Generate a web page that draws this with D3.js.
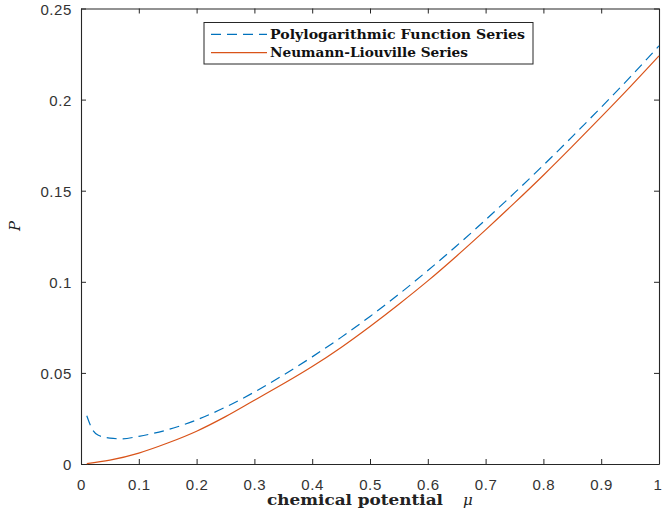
<!DOCTYPE html>
<html>
<head>
<meta charset="utf-8">
<script src="https://cdn.jsdelivr.net/npm/d3@7/dist/d3.min.js"></script>
<style>
  html, body { margin: 0; padding: 0; background: #fff; }
  svg { display: block; }
  .tick text { font-family: "Liberation Sans", Arial, sans-serif; font-size: 15px; fill: #333; letter-spacing: 0.6px; }
</style>
</head>
<body>
<svg id="chart" width="662" height="522"></svg>
<script>
// Chemical potential grid and pressure values for both series
const muPoly = [0.01, 0.02, 0.03, 0.05, 0.07, 0.1, 0.15, 0.2, 0.25, 0.3, 0.35, 0.4, 0.45, 0.5,
                0.55, 0.6, 0.65, 0.7, 0.75, 0.8, 0.85, 0.9, 0.95, 1.0];
const pPoly  = [0.0265, 0.0188, 0.0158, 0.0142, 0.0138, 0.0152, 0.0188, 0.0242, 0.0312, 0.0395,
                0.0488, 0.0588, 0.0695, 0.081, 0.0932, 0.1062, 0.1198, 0.134, 0.1488, 0.164,
                0.1797, 0.1958, 0.2123, 0.2295];

const muNL = [0.01, 0.05, 0.1, 0.15, 0.2, 0.25, 0.3, 0.35, 0.4, 0.45, 0.5,
              0.55, 0.6, 0.65, 0.7, 0.75, 0.8, 0.85, 0.9, 0.95, 1.0];
const pNL  = [0.0002, 0.0021, 0.006, 0.0115, 0.018, 0.026, 0.035, 0.044, 0.0535, 0.064, 0.0755,
              0.0877, 0.1005, 0.1142, 0.1285, 0.1433, 0.1585, 0.1743, 0.1905, 0.207, 0.224];

const xTicks = [0, 0.1, 0.2, 0.3, 0.4, 0.5, 0.6, 0.7, 0.8, 0.9, 1];
const xTickLabels = ["0", "0.1", "0.2", "0.3", "0.4", "0.5", "0.6", "0.7", "0.8", "0.9", "1"];
const yTicks = [0, 0.05, 0.1, 0.15, 0.2, 0.25];
const yTickLabels = ["0", "0.05", "0.1", "0.15", "0.2", "0.25"];

const seriesNames = ["Polylogarithmic Function Series", "Neumann-Liouville Series"];
const seriesColors = ["#0072BD", "#D95319"];

const svg = d3.select("#chart");
const L = 81, R = 659, T = 8.5, B = 464;

const x = d3.scaleLinear().domain([0, 1]).range([L, R]);
const y = d3.scaleLinear().domain([0, 0.25]).range([B, T]);

const axisColor = "#262626";

// bottom axis with inward ticks
const gx = svg.append("g").attr("transform", `translate(0,${B})`)
  .call(d3.axisBottom(x).tickValues(xTicks).tickFormat((d, i) => xTickLabels[i])
        .tickSizeInner(-5).tickSizeOuter(0).tickPadding(15));
// left axis
const gy = svg.append("g").attr("transform", `translate(${L},0)`)
  .call(d3.axisLeft(y).tickValues(yTicks).tickFormat((d, i) => yTickLabels[i])
        .tickSizeInner(-5).tickSizeOuter(0).tickPadding(9));
// top and right axes, ticks only
const gt = svg.append("g").attr("transform", `translate(0,${T})`)
  .call(d3.axisTop(x).tickValues(xTicks).tickFormat("").tickSizeInner(-5).tickSizeOuter(0));
const gr = svg.append("g").attr("transform", `translate(${R},0)`)
  .call(d3.axisRight(y).tickValues(yTicks).tickFormat("").tickSizeInner(-5).tickSizeOuter(0));

[gx, gy, gt, gr].forEach(g => {
  g.selectAll("path.domain").attr("stroke", axisColor).attr("stroke-width", 1.1);
  g.selectAll(".tick line").attr("stroke", axisColor).attr("stroke-width", 1);
});
gy.selectAll(".tick text").attr("dy", "0.38em");
// keep the last x label inside the canvas
gx.selectAll(".tick text").filter(d => d === 1).attr("text-anchor", "end").attr("dx", "3");

// curves
const line = d3.line().x(d => x(d[0])).y(d => y(d[1])).curve(d3.curveMonotoneX);

svg.append("path")
  .datum(muNL.map((m, i) => [m, pNL[i]]))
  .attr("d", line)
  .attr("fill", "none")
  .attr("stroke", seriesColors[1])
  .attr("stroke-width", 1.2);

svg.append("path")
  .datum(muPoly.map((m, i) => [m, pPoly[i]]))
  .attr("d", line)
  .attr("fill", "none")
  .attr("stroke", seriesColors[0])
  .attr("stroke-width", 1.2)
  .attr("stroke-dasharray", "10,6");

// legend
const leg = svg.append("g");
leg.append("rect")
  .attr("x", 204).attr("y", 22.5).attr("width", 329).attr("height", 41.5)
  .attr("fill", "#fff").attr("stroke", axisColor).attr("stroke-width", 1);

const legRows = [34.3, 52.7];
const legWidths = [255, 198];
seriesNames.forEach((name, i) => {
  leg.append("line")
    .attr("x1", 211).attr("x2", 267).attr("y1", legRows[i]).attr("y2", legRows[i])
    .attr("stroke", seriesColors[i]).attr("stroke-width", 1.2)
    .attr("stroke-dasharray", i === 0 ? "10,6" : null);
  leg.append("text")
    .attr("x", 270).attr("y", legRows[i] + 4.5)
    .attr("font-family", "'DejaVu Serif', serif")
    .attr("font-weight", "bold")
    .attr("font-size", 13.5)
    .attr("fill", "#111")
    .attr("textLength", legWidths[i])
    .attr("lengthAdjust", "spacingAndGlyphs")
    .text(name);
});

// axis titles
const xt = svg.append("text")
  .attr("x", 267).attr("y", 505)
  .attr("font-family", "'DejaVu Serif', serif")
  .attr("fill", "#222");
xt.append("tspan")
  .attr("font-weight", "bold").attr("font-size", 14.5)
  .attr("textLength", 176).attr("lengthAdjust", "spacingAndGlyphs")
  .text("chemical potential");
xt.append("tspan")
  .attr("x", 463)
  .attr("font-style", "italic").attr("font-size", 15)
  .text("μ");

svg.append("text")
  .attr("transform", "translate(20,226) rotate(-90)")
  .attr("text-anchor", "middle")
  .attr("font-family", "'DejaVu Serif', serif")
  .attr("font-style", "italic")
  .attr("font-size", 15)
  .attr("fill", "#222")
  .text("P");
</script>
</body>
</html>
